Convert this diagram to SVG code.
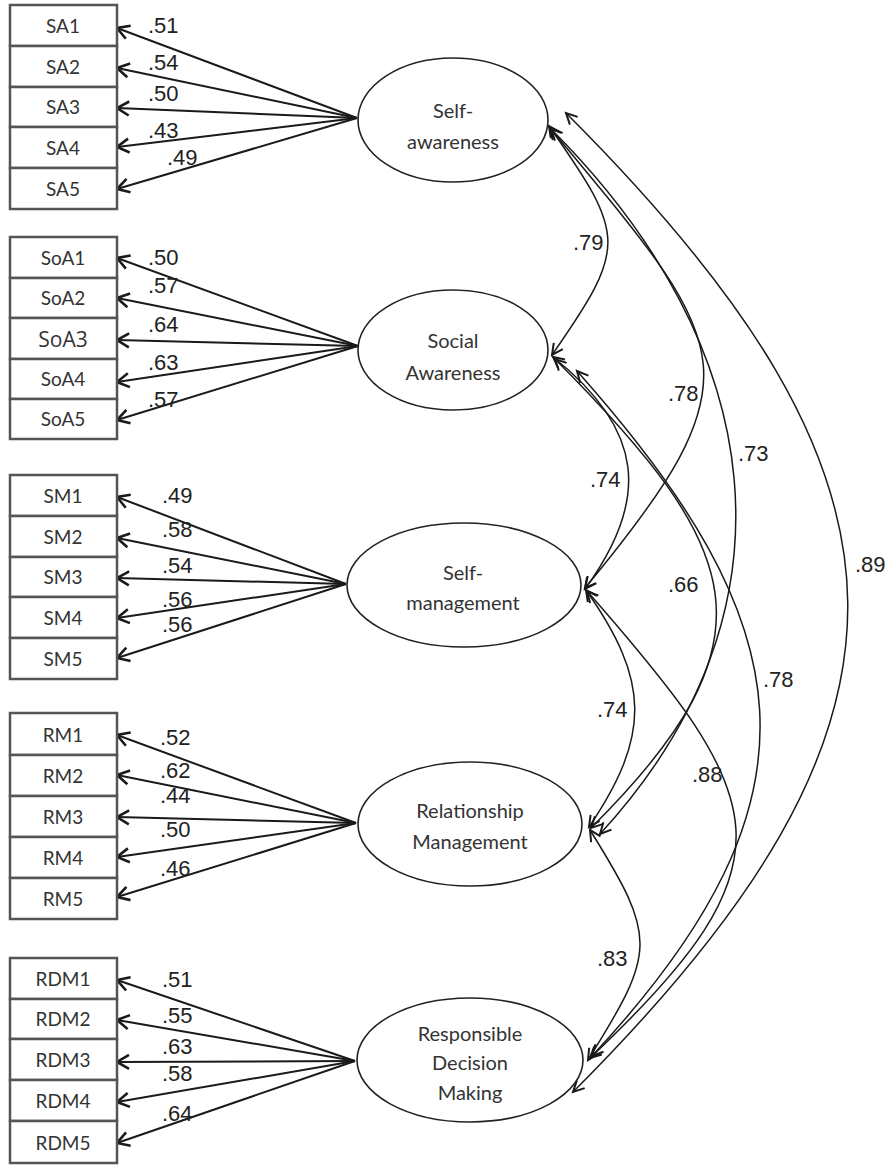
<svg xmlns="http://www.w3.org/2000/svg" width="891" height="1166" viewBox="0 0 891 1166">
<style>
.box rect{fill:#fff;stroke:#555;stroke-width:2.5}
.box text{font-family:Lato,"Open Sans","Liberation Sans",sans-serif;font-size:19px;fill:#333;text-anchor:middle}
.lat ellipse{fill:#fff;stroke:#222;stroke-width:1.6}
.lat text{font-family:Lato,"Open Sans","Liberation Sans",sans-serif;font-size:20px;fill:#333;text-anchor:middle}
.ld{stroke:#1a1a1a;stroke-width:2;fill:none;marker-end:url(#ah)}
.cv{stroke:#1a1a1a;stroke-width:1.5;fill:none;marker-start:url(#ch);marker-end:url(#ch)}
.num{font-family:"Liberation Sans",Arial,sans-serif;font-size:22px;fill:#222}
</style>
<defs>
<marker id="ah" markerUnits="userSpaceOnUse" viewBox="-15 -10 18 20" markerWidth="18" markerHeight="20" refX="0" refY="0" orient="auto" overflow="visible">
<path d="M-12,-7 L0,0 L-12,7" fill="none" stroke="#1a1a1a" stroke-width="2.6"/>
</marker>
<marker id="ch" markerUnits="userSpaceOnUse" viewBox="-13 -8 16 16" markerWidth="16" markerHeight="16" refX="0" refY="0" orient="auto-start-reverse" overflow="visible">
<path d="M-11,-5.5 L0,0 L-11,5.5" fill="none" stroke="#1a1a1a" stroke-width="2"/>
</marker>
</defs>
<rect width="891" height="1166" fill="#fff"/>

<g id="connectors">
<!-- loadings SA -->
<path class="ld" d="M357,118 L117,28"/>
<path class="ld" d="M357,118 L117,68"/>
<path class="ld" d="M357,118 L117,108"/>
<path class="ld" d="M357,118 L117,147"/>
<path class="ld" d="M357,118 L117,189"/>
<!-- SoA -->
<path class="ld" d="M358,346 L117,258"/>
<path class="ld" d="M358,346 L117,298"/>
<path class="ld" d="M358,346 L117,340"/>
<path class="ld" d="M358,346 L117,382"/>
<path class="ld" d="M358,346 L117,420"/>
<!-- SM -->
<path class="ld" d="M346,584 L117,497"/>
<path class="ld" d="M346,584 L117,538"/>
<path class="ld" d="M346,584 L117,578"/>
<path class="ld" d="M346,584 L117,618"/>
<path class="ld" d="M346,584 L117,658"/>
<!-- RM -->
<path class="ld" d="M356,823 L117,735"/>
<path class="ld" d="M356,823 L117,775"/>
<path class="ld" d="M356,823 L117,817"/>
<path class="ld" d="M356,823 L117,857"/>
<path class="ld" d="M356,823 L117,897"/>
<!-- RDM -->
<path class="ld" d="M355,1061 L117,980"/>
<path class="ld" d="M355,1061 L117,1020"/>
<path class="ld" d="M355,1061 L117,1062"/>
<path class="ld" d="M355,1061 L117,1102"/>
<path class="ld" d="M355,1061 L117,1143"/>
<!-- covariances -->
<path class="cv" d="M549,126 C626,236 628,246 552,355"/>
<path class="cv" d="M550,128 C730,345 765,371 585,588"/>
<path class="cv" d="M551,129 C768,346 806,610 600,834"/>
<path class="cv" d="M566,113 C937,484 944,721 573,1092"/>
<path class="cv" d="M553,357 C645,430 650,500 585,589"/>
<path class="cv" d="M555,359 C744,549 781,639 591,828"/>
<path class="cv" d="M577,371 C801,623 835,795 592,1056"/>
<path class="cv" d="M586,590 C650,681 651,735 589,827"/>
<path class="cv" d="M587,591 C770,800 800,860 590,1058"/>
<path class="cv" d="M590,830 C658,939 656,951 588,1060"/>
</g>

<g id="loading-labels">
<text class="num" x="148" y="33">.51</text>
<text class="num" x="148" y="70">.54</text>
<text class="num" x="148" y="101">.50</text>
<text class="num" x="148" y="138">.43</text>
<text class="num" x="167" y="165">.49</text>
<text class="num" x="148" y="265">.50</text>
<text class="num" x="148" y="293">.57</text>
<text class="num" x="148" y="332">.64</text>
<text class="num" x="148" y="370">.63</text>
<text class="num" x="148" y="407">.57</text>
<text class="num" x="162" y="503">.49</text>
<text class="num" x="162" y="537">.58</text>
<text class="num" x="162" y="573">.54</text>
<text class="num" x="162" y="607">.56</text>
<text class="num" x="162" y="632">.56</text>
<text class="num" x="160" y="745">.52</text>
<text class="num" x="160" y="778">.62</text>
<text class="num" x="160" y="803">.44</text>
<text class="num" x="160" y="837">.50</text>
<text class="num" x="160" y="876">.46</text>
<text class="num" x="162" y="987">.51</text>
<text class="num" x="162" y="1023">.55</text>
<text class="num" x="162" y="1054">.63</text>
<text class="num" x="162" y="1081">.58</text>
<text class="num" x="162" y="1121">.64</text>
</g>

<g id="covariance-labels">
<text class="num" x="573" y="250">.79</text>
<text class="num" x="668" y="401">.78</text>
<text class="num" x="738" y="461">.73</text>
<text class="num" x="855" y="572">.89</text>
<text class="num" x="590" y="487">.74</text>
<text class="num" x="668" y="592">.66</text>
<text class="num" x="763" y="687">.78</text>
<text class="num" x="597" y="717">.74</text>
<text class="num" x="692" y="782">.88</text>
<text class="num" x="597" y="966">.83</text>
</g>

<g id="SA1" class="box"><rect x="10" y="5" width="107" height="41"/><text x="63" y="33">SA1</text></g>
<g id="SA2" class="box"><rect x="10" y="46" width="107" height="41"/><text x="63" y="74">SA2</text></g>
<g id="SA3" class="box"><rect x="10" y="87" width="107" height="40"/><text x="63" y="114">SA3</text></g>
<g id="SA4" class="box"><rect x="10" y="127" width="107" height="41"/><text x="63" y="155">SA4</text></g>
<g id="SA5" class="box"><rect x="10" y="168" width="107" height="41"/><text x="63" y="196">SA5</text></g>

<g id="SoA1" class="box"><rect x="10" y="237" width="107" height="41"/><text x="63" y="265">SoA1</text></g>
<g id="SoA2" class="box"><rect x="10" y="278" width="107" height="40"/><text x="63" y="305">SoA2</text></g>
<g id="SoA3" class="box"><rect x="10" y="318" width="107" height="41"/><text x="63" y="347" style="font-family:'Open Sans','Liberation Sans',sans-serif;font-size:21px">SoA3</text></g>
<g id="SoA4" class="box"><rect x="10" y="359" width="107" height="40"/><text x="63" y="386">SoA4</text></g>
<g id="SoA5" class="box"><rect x="10" y="399" width="107" height="40"/><text x="63" y="426">SoA5</text></g>

<g id="SM1" class="box"><rect x="10" y="475" width="107" height="41"/><text x="63" y="503">SM1</text></g>
<g id="SM2" class="box"><rect x="10" y="516" width="107" height="41"/><text x="63" y="544">SM2</text></g>
<g id="SM3" class="box"><rect x="10" y="557" width="107" height="40"/><text x="63" y="584">SM3</text></g>
<g id="SM4" class="box"><rect x="10" y="597" width="107" height="41"/><text x="63" y="625">SM4</text></g>
<g id="SM5" class="box"><rect x="10" y="638" width="107" height="41"/><text x="63" y="666">SM5</text></g>

<g id="RM1" class="box"><rect x="10" y="713" width="107" height="42"/><text x="63" y="742">RM1</text></g>
<g id="RM2" class="box"><rect x="10" y="755" width="107" height="41"/><text x="63" y="783">RM2</text></g>
<g id="RM3" class="box"><rect x="10" y="796" width="107" height="41"/><text x="63" y="824">RM3</text></g>
<g id="RM4" class="box"><rect x="10" y="837" width="107" height="41"/><text x="63" y="865">RM4</text></g>
<g id="RM5" class="box"><rect x="10" y="878" width="107" height="41"/><text x="63" y="906">RM5</text></g>

<g id="RDM1" class="box"><rect x="10" y="958" width="107" height="41"/><text x="63" y="986">RDM1</text></g>
<g id="RDM2" class="box"><rect x="10" y="999" width="107" height="40"/><text x="63" y="1026">RDM2</text></g>
<g id="RDM3" class="box"><rect x="10" y="1039" width="107" height="41"/><text x="63" y="1067">RDM3</text></g>
<g id="RDM4" class="box"><rect x="10" y="1080" width="107" height="41"/><text x="63" y="1108">RDM4</text></g>
<g id="RDM5" class="box"><rect x="10" y="1121" width="107" height="42"/><text x="63" y="1150">RDM5</text></g>

<g id="SelfAwareness" class="lat"><ellipse cx="453" cy="120" rx="95" ry="62"/><text x="453" y="118">Self-</text><text x="453" y="149">awareness</text></g>
<g id="SocialAwareness" class="lat"><ellipse cx="453" cy="350" rx="95" ry="60"/><text x="453" y="348">Social</text><text x="453" y="380">Awareness</text></g>
<g id="SelfManagement" class="lat"><ellipse cx="464" cy="585" rx="117" ry="62"/><text x="463" y="580">Self-</text><text x="463" y="610">management</text></g>
<g id="RelationshipManagement" class="lat"><ellipse cx="470" cy="824" rx="112" ry="62"/><text x="470" y="818">Relationship</text><text x="470" y="849">Management</text></g>
<g id="ResponsibleDecisionMaking" class="lat"><ellipse cx="470" cy="1060" rx="113" ry="62"/><text x="470" y="1041">Responsible</text><text x="470" y="1070">Decision</text><text x="470" y="1100">Making</text></g>
</svg>
